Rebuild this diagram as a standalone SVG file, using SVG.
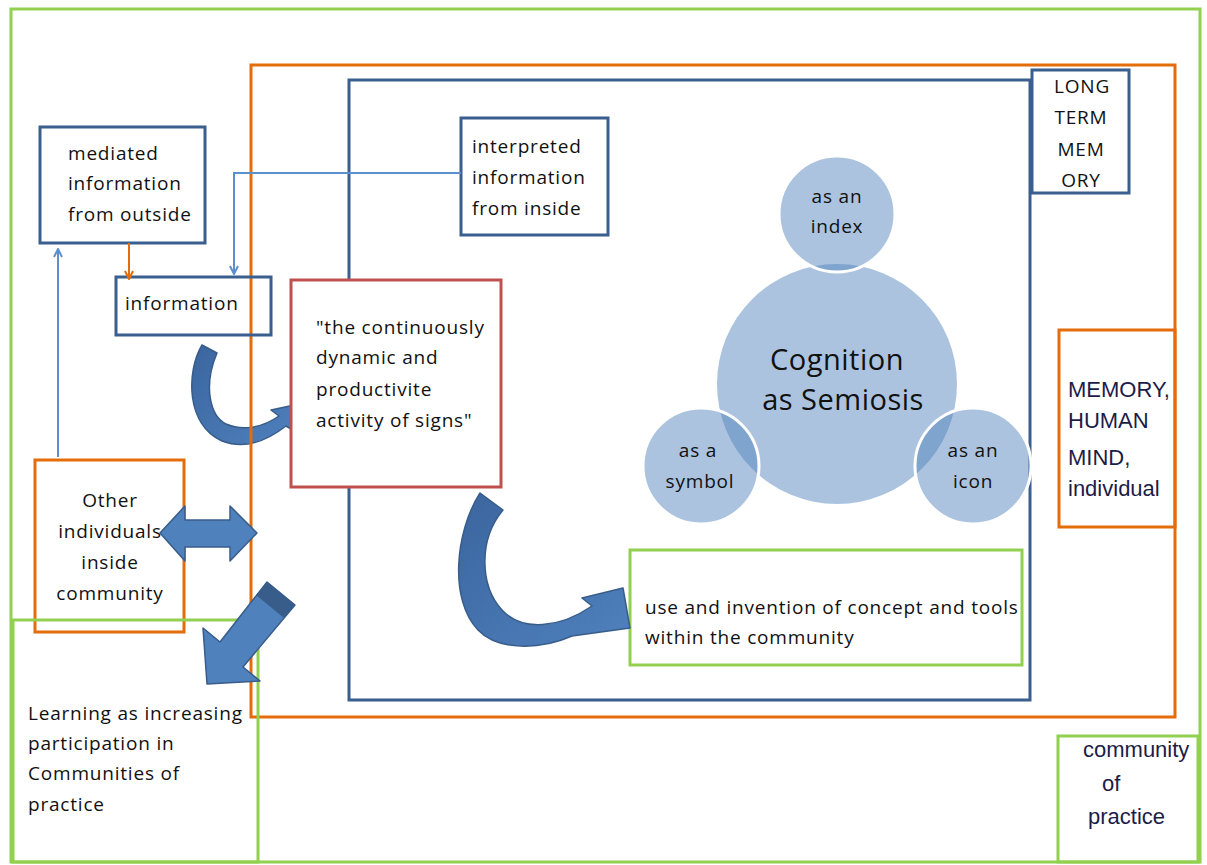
<svg xmlns="http://www.w3.org/2000/svg" width="1207" height="865" viewBox="0 0 1207 865">
  <style>
    .frame { fill: none; stroke-width: 3; }
    .green { stroke: #92d050; }
    .orange { stroke: #e46c0a; }
    .navy { stroke: #3a5f8e; }
    .red { stroke: #c0504d; }
    .txt { font-family: "Open Sans", "Liberation Sans", sans-serif; font-size: 19px; letter-spacing: 0.8px; fill: #111; }
    .big { font-size: 29px; letter-spacing: 0.5px; }
    .mid { text-anchor: middle; }
    .arial { font-family: "Liberation Sans", Arial, sans-serif; fill: #1c1c48; }
    .line { fill: none; stroke: #5b8fd0; stroke-width: 2; }
    .block { fill: #4f81bd; stroke: #385d8a; stroke-width: 1.5; stroke-linejoin: round; }
    .curl { fill: url(#curlFill); stroke: #385d8a; stroke-width: 1.5; stroke-linejoin: round; }
    .disc { fill: #4f81bd; fill-opacity: 0.48; }
    .petal { fill: #4f81bd; fill-opacity: 0.48; stroke: #ffffff; stroke-width: 3; }
  </style>
  <defs>
    <marker id="chevBlue" viewBox="0 0 10 10" refX="9" refY="5" markerWidth="10" markerHeight="10" orient="auto" markerUnits="userSpaceOnUse">
      <path d="M1,1 L9,5 L1,9" fill="none" stroke="#5b8fd0" stroke-width="2"/>
    </marker>
    <marker id="chevOrange" viewBox="0 0 10 10" refX="9" refY="5" markerWidth="10" markerHeight="10" orient="auto" markerUnits="userSpaceOnUse">
      <path d="M1,1 L9,5 L1,9" fill="none" stroke="#e46c0a" stroke-width="2"/>
    </marker>
    <linearGradient id="curlFill" x1="0" y1="0" x2="1" y2="1">
      <stop offset="0" stop-color="#3b659f"/>
      <stop offset="1" stop-color="#4f81bd"/>
    </linearGradient>
  </defs>

  <rect width="1207" height="865" fill="#ffffff"/>

  <!-- curled arrow running under the frame lines -->
  <g id="connectors-under">
    <path class="curl" d="M202,345 C186,372 186,425 222,441 C245,450 268,440 286,426 L296,432 L299,404 L271,410 L279,416 C262,428 242,431 226,424 C210,416 203,386 217,353 Z"/>
  </g>

  <!-- nested frames -->
  <g id="community-frame">
    <rect class="frame green" x="11" y="9" width="1189" height="853"/>
  </g>
  <g id="memory-frame">
    <rect class="frame orange" x="251" y="65" width="924" height="652"/>
  </g>
  <g id="long-term-frame">
    <rect class="frame navy" x="349" y="80" width="681" height="620"/>
  </g>

  <!-- nodes -->
  <g id="mediated">
    <rect class="frame navy" x="40" y="127" width="165" height="116"/>
    <text class="txt" x="68" y="160">mediated</text>
    <text class="txt" x="68" y="190">information</text>
    <text class="txt" x="68" y="221">from  outside</text>
  </g>
  <g id="information">
    <rect class="frame navy" x="116" y="277" width="155" height="58"/>
    <text class="txt" x="125" y="310">information</text>
  </g>
  <g id="interpreted">
    <rect class="frame navy" x="461" y="118" width="147" height="117"/>
    <text class="txt" x="472" y="153">interpreted</text>
    <text class="txt" x="472" y="184">information</text>
    <text class="txt" x="472" y="215">from  inside</text>
  </g>
  <g id="signs">
    <rect class="frame red" x="291" y="280" width="210" height="207" style="fill:#ffffff"/>
    <text class="txt" x="316" y="334">"the continuously</text>
    <text class="txt" x="316" y="364">dynamic and</text>
    <text class="txt" x="316" y="396">productivite</text>
    <text class="txt" x="316" y="427">activity of signs"</text>
  </g>
  <g id="long-term-memory">
    <rect class="frame navy" x="1032" y="70" width="97" height="123" style="fill:#ffffff"/>
    <text class="txt mid" x="1082" y="93">LONG</text>
    <text class="txt mid" x="1081" y="124">TERM</text>
    <text class="txt mid" x="1081" y="156">MEM</text>
    <text class="txt mid" x="1081" y="187">ORY</text>
  </g>
  <g id="human-mind">
    <rect class="frame orange" x="1059" y="330" width="116" height="197"/>
    <text class="arial" font-size="22" x="1068" y="397">MEMORY,</text>
    <text class="arial" font-size="22" x="1068" y="428">HUMAN</text>
    <text class="arial" font-size="22" x="1068" y="465">MIND,</text>
    <text class="arial" font-size="22" x="1068" y="496">individual</text>
  </g>
  <g id="community-label">
    <rect class="frame green" x="1058" y="736" width="140" height="126"/>
    <text class="arial" font-size="22" x="1083" y="757">community</text>
    <text class="arial" font-size="22" x="1102" y="791">of</text>
    <text class="arial" font-size="22" x="1088" y="824">practice</text>
  </g>
  <g id="other-individuals">
    <rect class="frame orange" x="35" y="460" width="149" height="172"/>
    <text class="txt mid" x="110" y="507">Other</text>
    <text class="txt mid" x="110" y="538">individuals</text>
    <text class="txt mid" x="110" y="569">inside</text>
    <text class="txt mid" x="110" y="600">community</text>
  </g>
  <g id="learning">
    <rect class="frame green" x="13" y="620" width="245" height="242"/>
    <text class="txt" x="28" y="720">Learning as increasing</text>
    <text class="txt" x="28" y="750">participation in</text>
    <text class="txt" x="28" y="780">Communities of</text>
    <text class="txt" x="28" y="811">practice</text>
  </g>
  <g id="tools">
    <rect class="frame green" x="630" y="550" width="392" height="115"/>
    <text class="txt" x="645" y="614">use and invention of concept and tools</text>
    <text class="txt" x="645" y="644">within the community</text>
  </g>

  <!-- sign triad -->
  <g id="semiosis">
    <circle class="disc" cx="837" cy="384" r="120"/>
    <text class="txt big mid" x="837" y="370">Cognition</text>
    <text class="txt big mid" x="843" y="410">as Semiosis</text>
  </g>
  <g id="index">
    <circle class="petal" cx="837" cy="214" r="58"/>
    <text class="txt mid" x="837" y="203">as an</text>
    <text class="txt mid" x="837" y="233">index</text>
  </g>
  <g id="symbol">
    <circle class="petal" cx="701" cy="466" r="58"/>
    <text class="txt mid" x="698" y="457">as a</text>
    <text class="txt mid" x="700" y="488">symbol</text>
  </g>
  <g id="icon">
    <circle class="petal" cx="973" cy="466" r="58"/>
    <text class="txt mid" x="973" y="457">as an</text>
    <text class="txt mid" x="973" y="488">icon</text>
  </g>

  <!-- connectors -->
  <g id="connectors">
    <path class="line" d="M58,457 V249" marker-end="url(#chevBlue)"/>
    <path class="line" d="M461,173 H234 V274" marker-end="url(#chevBlue)"/>
    <path d="M129,243 V279" fill="none" stroke="#e46c0a" stroke-width="2" marker-end="url(#chevOrange)"/>
    <path class="curl" d="M480,493 C455,532 449,600 478,630 C498,651 540,650 572,636 L630,628 L623,588 L582,598 L592,606 C560,628 522,632 502,610 C480,586 478,540 503,510 Z"/>
    <path class="block" d="M160,533 L185,506 L185,520 L230,520 L230,506 L257,533 L230,561 L230,547 L185,547 L185,561 Z"/>
    <path class="block" d="M267,582 L295,605 L243,667 L260,681 L207,684 L203,628 L220,642 Z"/>
    <path d="M267,582 L295,605 L284,618 L256,595 Z" fill="#385d8a"/>
  </g>
</svg>
